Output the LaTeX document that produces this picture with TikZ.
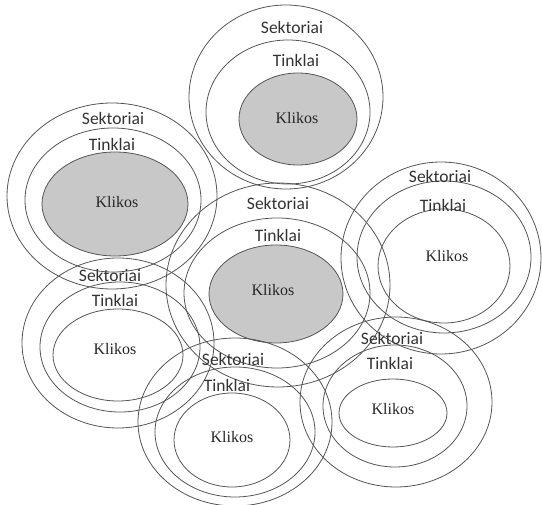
\documentclass[tikz,border=0pt]{standalone}
\usepackage{fontspec}
\usetikzlibrary{shapes.geometric}
\newfontfamily\labelsans{Carlito}
\newfontfamily\labelserif{Liberation Serif}
\definecolor{ringline}{RGB}{85,85,85}
\definecolor{cliquefill}{RGB}{200,200,200}
\tikzset{
  ring/.style={draw=ringline, line width=0.8pt, ellipse, inner sep=0pt, outer sep=0pt},
  filled/.style={fill=cliquefill, ellipse, inner sep=0pt, outer sep=0pt},
  sektext/.style={font=\labelsans\fontsize{17.5}{18}\selectfont, text=black!80, inner sep=0pt},
  tintext/.style={font=\labelsans\fontsize{17.5}{18}\selectfont, text=black!80, inner sep=0pt},
  klitext/.style={font=\labelserif\fontsize{16}{17}\selectfont, text=black!85, inner sep=0pt}
}
% \ringat{style}{name}{x}{y}{width}{height}
\newcommand{\ringat}[6]{%
  \node[#1, minimum width=#5pt, minimum height=#6pt] (#2) at (#3,#4) {};}
\begin{document}
\begin{tikzpicture}[x=1pt,y=-1pt]
  \useasboundingbox (0,0) rectangle (542,505);
  % shaded cliques (filled first, outlines drawn on top)
  \ringat{filled}{tcoreF}{298}{119}{118}{92}
  \ringat{filled}{lcoreF}{115}{204}{146}{104}
  \ringat{filled}{ccoreF}{276}{294}{134}{98}
  % top cluster
  \ringat{ring}{tout}{286}{97}{194}{184}
  \ringat{ring}{tin}{288}{112}{164}{144}
  \ringat{ring}{tcore}{298}{119}{118}{92}
  % left cluster
  \ringat{ring}{lout}{112}{196}{210}{186}
  \ringat{ring}{lin}{113}{200}{176}{144}
  \ringat{ring}{lcore}{115}{204}{146}{104}
  % right cluster
  \ringat{ring}{rout}{441}{258}{200}{192}
  \ringat{ring}{rin}{444}{257}{174}{152}
  \ringat{ring}{rcore}{444}{266}{132}{114}
  % central cluster
  \ringat{ring}{cout}{278}{285}{224}{204}
  \ringat{ring}{cin}{277}{293}{186}{150}
  \ringat{ring}{ccore}{276}{294}{134}{98}
  % lower left cluster
  \ringat{ring}{blout}{118}{343}{192}{170}
  \ringat{ring}{blin}{120}{347}{160}{130}
  \ringat{ring}{blcore}{118}{355}{130}{92}
  % lower middle cluster
  \ringat{ring}{bmout}{235}{422}{194}{168}
  \ringat{ring}{bmin}{235}{432}{160}{130}
  \ringat{ring}{bmcore}{232}{440}{116}{94}
  % lower right cluster
  \ringat{ring}{brout}{396}{402}{192}{170}
  \ringat{ring}{brin}{395}{406}{144}{122}
  \ringat{ring}{brcore}{393}{413}{108}{68}
  % labels
  \node[sektext] (tS) at (292,27) {Sektoriai};
  \node[tintext] (tT) at (296,60) {Tinklai};
  \node[klitext] (tK) at (297,118) {Klikos};
  \node[sektext] (lS) at (113,118) {Sektoriai};
  \node[tintext] (lT) at (112,144) {Tinklai};
  \node[klitext] (lK) at (117,202) {Klikos};
  \node[sektext] (rS) at (440,176) {Sektoriai};
  \node[tintext] (rT) at (443,205) {Tinklai};
  \node[klitext] (rK) at (447,256) {Klikos};
  \node[sektext] (cS) at (278,203) {Sektoriai};
  \node[tintext] (cT) at (278,235) {Tinklai};
  \node[klitext] (cK) at (273,290) {Klikos};
  \node[sektext] (blS) at (110,275) {Sektoriai};
  \node[tintext] (blT) at (115,300) {Tinklai};
  \node[klitext] (blK) at (115,349) {Klikos};
  \node[sektext] (bmS) at (233,359) {Sektoriai};
  \node[tintext] (bmT) at (227,385) {Tinklai};
  \node[klitext] (bmK) at (232,437) {Klikos};
  \node[sektext] (brS) at (392,338) {Sektoriai};
  \node[tintext] (brT) at (390,363) {Tinklai};
  \node[klitext] (brK) at (393,409) {Klikos};
\end{tikzpicture}
\end{document}
